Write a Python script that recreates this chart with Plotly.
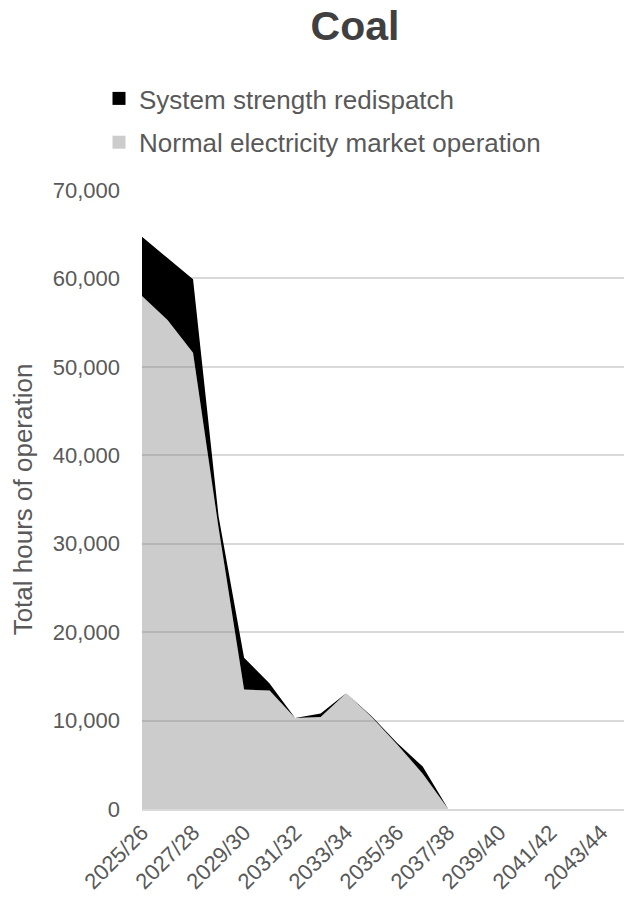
import plotly.graph_objects as go

categories = ["2025/26", "2026/27", "2027/28", "2028/29", "2029/30", "2030/31", "2031/32",
              "2032/33", "2033/34", "2034/35", "2035/36", "2036/37", "2037/38", "2038/39",
              "2039/40", "2040/41", "2041/42", "2042/43", "2043/44", "2044/45"]
normal_operation = [58000, 55300, 51600, 31800, 13500, 13400, 10300, 10400, 13100, 10400,
                    7300, 4000, 0, 0, 0, 0, 0, 0, 0, 0]
total_hours = [64700, 62300, 59900, 33100, 17100, 14200, 10300, 10800, 13100, 10500,
               7450, 4800, 0, 0, 0, 0, 0, 0, 0, 0]
redispatch = [t - n for t, n in zip(total_hours, normal_operation)]
tick_labels = categories[::2]

FONT = "Liberation Sans, Arial, sans-serif"
TXT = "#595959"

fig = go.Figure()
fig.add_trace(go.Scatter(
    x=categories, y=normal_operation, stackgroup="one", mode="none",
    fillcolor="rgba(128,128,128,0.4)", showlegend=False,
    name="Normal electricity market operation"))
fig.add_trace(go.Scatter(
    x=categories, y=redispatch, stackgroup="one", mode="none",
    fillcolor="#000000", showlegend=False, name="System strength redispatch"))

# legend entries (square swatches)
fig.add_trace(go.Scatter(x=[categories[0]], y=[None], mode="markers", name="System strength redispatch",
                         legendgroup="a", marker=dict(symbol="square", size=13, color="#000000")))
fig.add_trace(go.Scatter(x=[categories[0]], y=[None], mode="markers", name="Normal electricity market operation",
                         legendgroup="b", marker=dict(symbol="square", size=13, color="#CCCCCC")))

n_vis = (624 - 142) / 25.52
fig.update_layout(
    width=624, height=909,
    margin=dict(l=142, r=0, t=190, b=100, autoexpand=False),
    paper_bgcolor="white", plot_bgcolor="white",
    font=dict(family=FONT, color=TXT),
    title=dict(text="<b>Coal</b>", font=dict(size=41, color="#404040", family=FONT),
               x=355 / 624, xanchor="center", xref="container",
               y=1 - 26 / 909, yanchor="middle", yref="container"),
    legend=dict(x=(99 - 142) / 482, y=(809 - 75) / 619,
                xanchor="left", yanchor="top", font=dict(size=26, color=TXT, family=FONT),
                traceorder="grouped", tracegroupgap=7, bgcolor="rgba(0,0,0,0)"),
    showlegend=True,
)
fig.update_xaxes(
    type="category", range=[0, n_vis], tickmode="array", tickvals=tick_labels, ticktext=tick_labels,
    tickangle=-45, tickfont=dict(size=22, color=TXT), showgrid=False, showline=True,
    linecolor="#D9D9D9", linewidth=2, ticks="", zeroline=False, automargin=False,
)
fig.update_yaxes(
    range=[0, 70000], dtick=10000, tickformat=",", tickfont=dict(size=22, color=TXT),
    showgrid=True, gridcolor="#D9D9D9", gridwidth=1.5, zeroline=False, ticks="",
    ticklabelstandoff=21, automargin=False,
    title=dict(text="Total hours of operation", font=dict(size=26, color=TXT), standoff=12),
)
fig.write_html("out.html")
